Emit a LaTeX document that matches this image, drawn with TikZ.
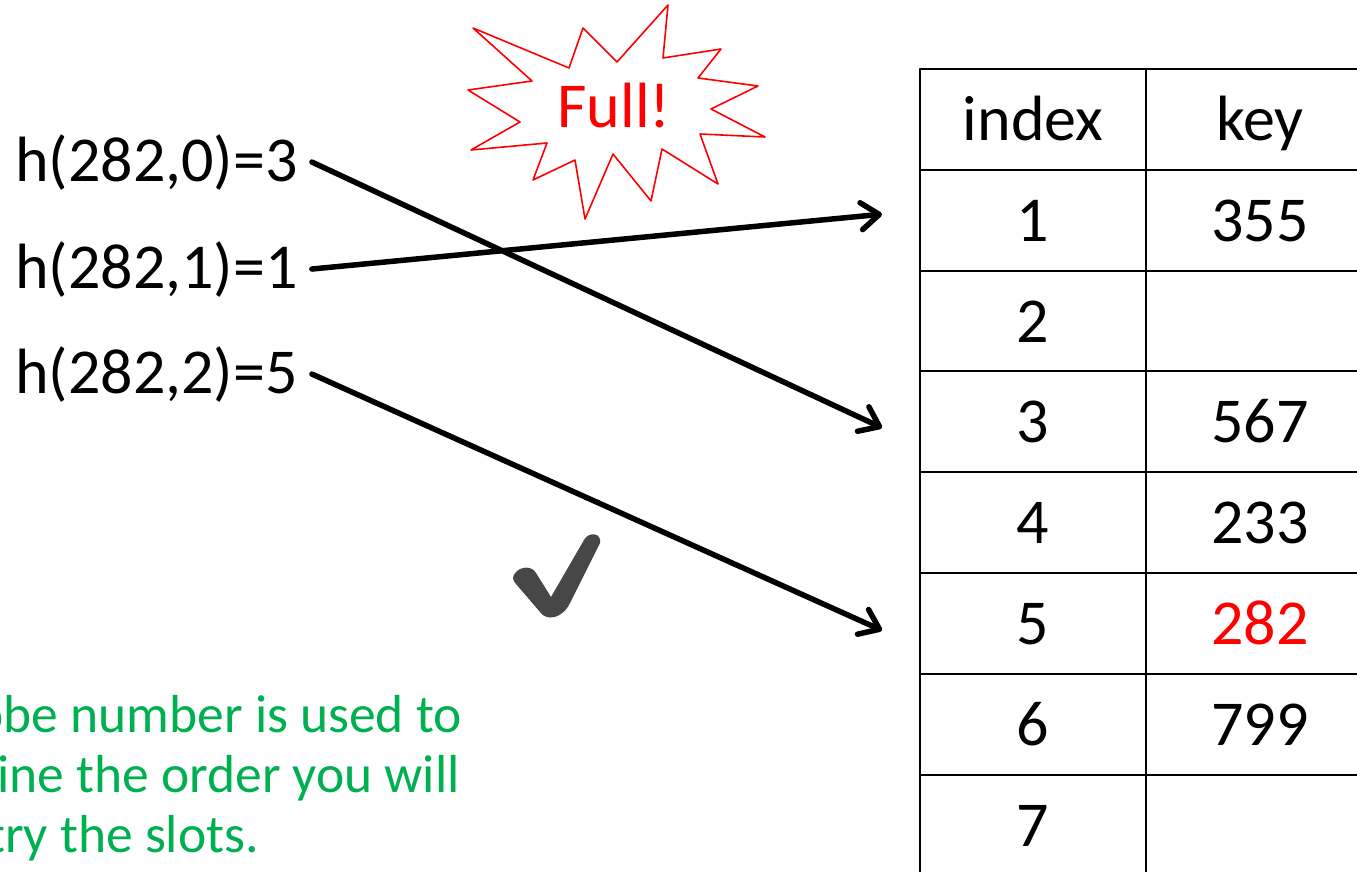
\documentclass[tikz,border=0pt]{standalone}
\usepackage{fontspec}
\setmainfont{Carlito}
\usetikzlibrary{arrows.meta}
\definecolor{notegreen}{HTML}{00B050}
\definecolor{tickgray}{HTML}{474747}
\begin{document}
\begin{tikzpicture}[x=1pt, y=-1pt, line join=round,
  cell/.style={draw, line width=2pt, minimum width=226pt, minimum height=100.8pt, inner sep=0pt, text height=42pt, text depth=0pt, font=\fontsize{64}{76}\selectfont},
  keycell/.style={cell, minimum width=228pt},
  hlabel/.style={inner sep=0pt, anchor=base west, font=\fontsize{64}{76}\selectfont},
  note/.style={inner sep=0pt, anchor=base east, text=notegreen, font=\fontsize{53.5}{64}\selectfont},
  ptr/.style={line width=5.5pt, line cap=round, -{Straight Barb[length=18pt, width=27pt, round]}}]
  \useasboundingbox (0,0) rectangle (1357,872);
  \clip (0,0) rectangle (1357,872);
  % table
  \node[cell] (idxh) at (1033,119.4) {index};
  \node[keycell] (keyh) at (1260,119.4) {key};
  \foreach \i/\k/\c in {1/355/black,2//black,3/567/black,4/233/black,5/282/red,6/799/black,7//black} {
    \node[cell] (idx\i) at (1033,{119.4+100.8*\i}) {\i};
    \node[keycell, text=\c] (key\i) at (1260,{119.4+100.8*\i}) {\k};
  }
  % probes
  \node[hlabel] (h0) at (15,181) {h(282,0)=3};
  \node[hlabel] (h1) at (15,288) {h(282,1)=1};
  \node[hlabel] (h2) at (15,393) {h(282,2)=5};
  \draw[ptr] ([xshift=14pt]h0.east) -- ([xshift=-37pt, yshift=-6pt]idx3.west);
  \draw[ptr] ([xshift=14pt]h1.east) -- ([xshift=-37pt, yshift=6pt]idx1.west);
  \draw[ptr] ([xshift=14pt]h2.east) -- ([xshift=-37pt, yshift=-7pt]idx5.west);
  % burst
  \draw[red, line width=1.6pt, fill=white] (473,28) -- (569,68) -- (583,28) -- (617,62) -- (668,5) -- (663,58) -- (721,49) -- (698,78) -- (758,86) -- (711,109) -- (765,137) -- (700,134) -- (718,184) -- (662,149) -- (651,201) -- (613,154) -- (585,219) -- (575,160) -- (533,180) -- (547,143) -- (471,150) -- (520,122) -- (468,90) -- (532,81) -- cycle;
  \node[inner sep=0pt, text=red, font=\fontsize{64}{76}\selectfont] (full) at (614,106) {Full!};
  % tick
  \fill[tickgray] (516,572) .. controls (522,566) and (532,566) .. (536,573) -- (551,597) -- (584,540) .. controls (589,531) and (602,533) .. (600,543) -- (570,603) .. controls (563,618) and (547,622) .. (540,612) -- (516,584) .. controls (512,580) and (512,576) .. (516,572) -- cycle;
  % note
  \node[note] (noteA) at (462,732) {probe number is used to};
  \node[note] (noteB) at (460,792) {determine the order you will};
  \node[note] (noteC) at (259,852) {try the slots.};
\end{tikzpicture}
\end{document}
